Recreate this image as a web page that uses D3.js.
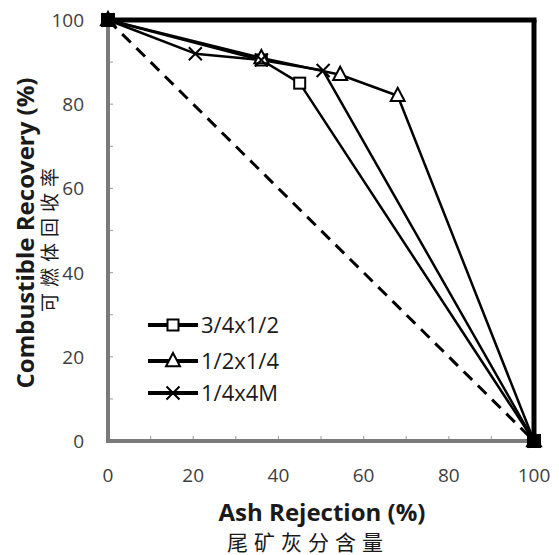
<!DOCTYPE html>
<html><head><meta charset="utf-8">
<script src="https://cdn.jsdelivr.net/npm/d3@7"></script>
<style>
body{margin:0;background:#fff;}
svg{display:block;}
</style></head>
<body><svg id="c" width="559" height="555"></svg>
<script>
const seriesNames = ["3/4x1/2", "1/2x1/4", "1/4x4M"];
const seriesSymbols = ["square", "triangle", "cross"];
const s1 = [[0,100],[36,90.5],[45,85],[100,0]];
const s2 = [[0,100],[36,91],[54.5,87],[68,82],[100,0]];
const s3 = [[0,100],[20.5,92],[36,90.5],[50.5,88],[100,0]];
const seriesData = [s1, s2, s3];
const diagonal = [[0,100],[100,0]];
const tickValues = [0,20,40,60,80,100];
const minorTicks = [10,20,30,40,50,60,70,80,90];

const svg = d3.select("#c");
const x = d3.scaleLinear().domain([0,100]).range([108,534]);
const y = d3.scaleLinear().domain([0,100]).range([441,20]);
const font = "'Open Sans', 'Liberation Sans', sans-serif";

// inner minor ticks
svg.append("g").selectAll("line.xt").data(minorTicks).join("line")
  .attr("x1", d=>x(d)).attr("x2", d=>x(d)).attr("y1", y(0)).attr("y2", y(0)-5)
  .attr("stroke","#aaa").attr("stroke-width",1.2);
svg.append("g").selectAll("line.yt").data(minorTicks).join("line")
  .attr("x1", x(0)).attr("x2", x(0)+5).attr("y1", d=>y(d)).attr("y2", d=>y(d))
  .attr("stroke","#aaa").attr("stroke-width",1.2);

// frame: top and right black
svg.append("line").attr("x1",x(0)).attr("x2",x(100)+2.5).attr("y1",y(100)).attr("y2",y(100))
  .attr("stroke","#000").attr("stroke-width",5);
svg.append("line").attr("x1",x(100)).attr("x2",x(100)).attr("y1",y(100)).attr("y2",y(0))
  .attr("stroke","#000").attr("stroke-width",5);
// left / bottom axes grey
svg.append("line").attr("x1",x(0)).attr("x2",x(0)).attr("y1",y(100)).attr("y2",y(0)+2)
  .attr("stroke","#7a7a7a").attr("stroke-width",4);
svg.append("line").attr("x1",x(0)-2).attr("x2",x(100)).attr("y1",y(0)).attr("y2",y(0))
  .attr("stroke","#7a7a7a").attr("stroke-width",4);

// tick labels
svg.append("g").selectAll("text").data(tickValues).join("text")
  .attr("x", d=>x(d)).attr("y", 482).attr("text-anchor","middle")
  .style("font-family",font).style("font-size","19px").attr("fill","#404040")
  .text(d=>d);
svg.append("g").selectAll("text").data(tickValues).join("text")
  .attr("x", 84).attr("y", d=>y(d)+7).attr("text-anchor","end")
  .style("font-family",font).style("font-size","19px").attr("fill","#404040")
  .text(d=>d);

// diagonal dashed
const line = d3.line().x(d=>x(d[0])).y(d=>y(d[1]));
svg.append("path").attr("d", line(diagonal)).attr("fill","none")
  .attr("stroke","#000").attr("stroke-width",3).attr("stroke-dasharray","12,8");

// series lines
seriesData.forEach(s=>{
  svg.append("path").attr("d", line(s)).attr("fill","none")
    .attr("stroke","#000").attr("stroke-width",2.5).attr("stroke-linejoin","round");
});

function drawMarker(g, sym, cx, cy, sz){
  if(sym==="square"){
    g.append("rect").attr("x",cx-sz/2).attr("y",cy-sz/2).attr("width",sz).attr("height",sz)
      .attr("fill","#fff").attr("stroke","#000").attr("stroke-width",2);
  } else if(sym==="triangle"){
    const h = sz*0.95;
    g.append("path").attr("d",`M${cx},${cy-h*0.6}L${cx+sz/2},${cy+h*0.4}L${cx-sz/2},${cy+h*0.4}Z`)
      .attr("fill","#fff").attr("stroke","#000").attr("stroke-width",2);
  } else {
    const r = sz/2;
    g.append("path").attr("d",`M${cx-r},${cy-r}L${cx+r},${cy+r}M${cx-r},${cy+r}L${cx+r},${cy-r}`)
      .attr("stroke","#000").attr("stroke-width",2);
  }
}
const sizes = {square:11, triangle:14, cross:13};
seriesData.forEach((s,i)=>{
  const g = svg.append("g");
  s.forEach(p=>drawMarker(g, seriesSymbols[i], x(p[0]), y(p[1]), sizes[seriesSymbols[i]]));
});
// end blobs (overlapping markers look filled)
[[0,100],[100,0]].forEach(p=>{
  svg.append("rect").attr("x",x(p[0])-7).attr("y",y(p[1])-7).attr("width",14).attr("height",14).attr("fill","#000");
});

// legend
const legY = [325, 361, 393];
seriesNames.forEach((n,i)=>{
  const g = svg.append("g");
  g.append("line").attr("x1",148).attr("x2",198).attr("y1",legY[i]).attr("y2",legY[i])
    .attr("stroke","#000").attr("stroke-width",4);
  drawMarker(g, seriesSymbols[i], 173, legY[i], sizes[seriesSymbols[i]]);
  g.append("text").attr("x",201).attr("y",legY[i]+8)
    .style("font-family",font).style("font-size","22px").attr("fill","#1a1a1a").text(n);
});

// axis titles
svg.append("text").attr("x",322).attr("y",521).attr("text-anchor","middle")
  .style("font-family",font).style("font-size","24px").style("font-weight","bold").attr("fill","#1a1a1a")
  .text("Ash Rejection (%)");
svg.append("text").attr("x",308).attr("y",550).attr("text-anchor","middle")
  .style("font-family","'Noto Sans CJK SC', sans-serif").style("font-size","21px").style("letter-spacing","6px")
  .attr("fill","#1a1a1a").text("尾矿灰分含量");
svg.append("text").attr("transform","translate(34,233) rotate(-90)").attr("text-anchor","middle")
  .style("font-family",font).style("font-size","24px").style("font-weight","bold").attr("fill","#1a1a1a")
  .text("Combustible Recovery (%)");
svg.append("text").attr("transform","translate(57,237) rotate(-90)").attr("text-anchor","middle")
  .style("font-family","'Noto Sans CJK SC', sans-serif").style("font-size","19px").style("letter-spacing","6px")
  .attr("fill","#1a1a1a").text("可燃体回收率");
</script></body></html>
